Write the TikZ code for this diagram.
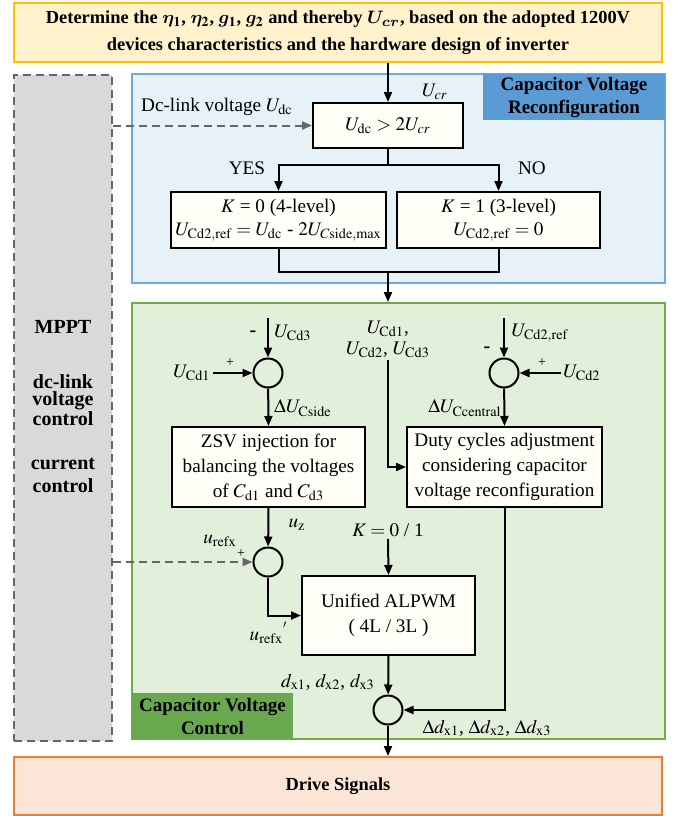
\documentclass[tikz,border=0pt]{standalone}
\usepackage{amsmath}
\usepackage{bm}
\usepackage{mathptmx}
\usepackage[no-math]{fontspec}
\setmainfont{Liberation Serif}
\usetikzlibrary{arrows.meta,positioning}
\definecolor{titlefill}{HTML}{FFF2CC}
\definecolor{titleline}{HTML}{FFC000}
\definecolor{drivefill}{HTML}{FBE5D6}
\definecolor{driveline}{HTML}{ED7D31}
\definecolor{bluefill}{HTML}{E6F1F8}
\definecolor{blueline}{HTML}{6FA8DC}
\definecolor{bluetag}{HTML}{5B9BD5}
\definecolor{greenfill}{HTML}{E2EFDA}
\definecolor{greenline}{HTML}{70AD47}
\definecolor{greentag}{HTML}{6AA84F}
\definecolor{grayfill}{HTML}{D9D9D9}
\definecolor{dashgray}{HTML}{666666}
\definecolor{boxfill}{HTML}{FFFEF7}
\tikzset{>={Triangle[length=5pt,width=4pt]}}
\tikzset{
    block/.style={rectangle,draw,line width=1pt,fill=boxfill,align=center,inner sep=2pt,font=\fontsize{9.6}{12.5}\selectfont},
    banner/.style={rectangle,draw,line width=1pt,align=center,font=\bfseries\fontsize{9.2}{13.5}\selectfont},
    region/.style={rectangle,draw,line width=1pt},
    tag/.style={rectangle,align=center,inner sep=0pt,font=\bfseries\fontsize{9.5}{11.5}\selectfont},
    sumnode/.style={circle,draw,line width=1pt,minimum size=14.5pt,inner sep=0pt},
    lbl/.style={inner sep=1pt,align=center,font=\fontsize{9.6}{12.5}\selectfont},
    sgn/.style={inner sep=0pt,font=\fontsize{7}{8}\selectfont},
    flow/.style={->,line width=1pt},
    wire/.style={line width=1pt},
    feed/.style={->,line width=1pt,draw=dashgray,dash pattern=on 4pt off 2.5pt},
}

\begin{document}
\begin{tikzpicture}[x=0.5pt,y=-0.5pt]
    \useasboundingbox (0,0) rectangle (674,816);

    % outer frames
    \node[banner,fill=titlefill,draw=titleline,minimum width=324pt,minimum height=29.5pt] (top) at (338,32.5)
        {Determine the $\bm{\eta}_{\mathbf{1}}$, $\bm{\eta}_{\mathbf{2}}$, $\bm{g}_{\mathbf{1}}$, $\bm{g}_{\mathbf{2}}$ and thereby $\bm{U}_{\bm{cr}}$, based on the adopted 1200V\\devices characteristics and the hardware design of inverter};
    \node[banner,fill=drivefill,draw=driveline,minimum width=324pt,minimum height=29pt] (drive) at (338,786) {Drive Signals};
    \node[rectangle,draw=dashgray,fill=grayfill,line width=1pt,dash pattern=on 4pt off 2.5pt,minimum width=49pt,minimum height=333pt] (outer) at (63,408) {};
    \node[tag,font=\bfseries\fontsize{10}{12}\selectfont] (mppt) at (63,327) {MPPT};
    \node[tag,font=\bfseries\fontsize{10}{8.5}\selectfont] (dcv) at (63,400) {dc-link\\voltage\\control};
    \node[tag,font=\bfseries\fontsize{10}{11.5}\selectfont] (cur) at (63,475) {current\\control};

    \node[region,fill=bluefill,draw=blueline,minimum width=266.5pt,minimum height=104.5pt] (blue) at (398.5,178.5) {};
    \node[tag,fill=bluetag,minimum width=91pt,minimum height=23pt] (bluetag) at (574,97) {Capacitor Voltage\\Reconfiguration};
    \node[region,fill=greenfill,draw=greenline,minimum width=266.5pt,minimum height=218pt] (green) at (398.5,521) {};
    \node[tag,fill=greentag,minimum width=80.5pt,minimum height=23pt] (greentag) at (212.5,716) {Capacitor Voltage\\Control};

    % reconfiguration
    \node[block,minimum width=75pt,minimum height=22.5pt] (dec) at (388,125.5) {$U_{\mathrm{dc}} > 2U_{cr}$};
    \node[block,minimum width=99.5pt,minimum height=28pt] (kzero) at (278.5,220)
        {$K$ = 0 (4-level)\\[-1pt]$U_{\mathrm{Cd2,ref}} = U_{\mathrm{dc}}$ - $2U_{C\mathrm{side,max}}$};
    \node[block,minimum width=101.5pt,minimum height=28pt] (kone) at (498.5,220)
        {$K$ = 1 (3-level)\\[-1pt]$U_{\mathrm{Cd2,ref}} = 0$};
    \node[lbl] (ucr) at (435,92) {$U_{cr}$};
    \node[lbl] (dclink) at (217,107) {Dc-link voltage $U_{\mathrm{dc}}$};
    \node[lbl] (yes) at (247,168) {YES};
    \node[lbl] (no) at (532,168) {NO};
    \coordinate (br) at (388,165);
    \coordinate (jn) at (388,272);

    \draw[flow] (top.south -| dec.north) -- (dec.north);
    \draw[feed] (outer.east |- dec.west) -- (dec.west);
    \draw[wire] (dec.south) -- (br);
    \draw[flow] (br) -| (kzero.north);
    \draw[flow] (br) -| (kone.north);
    \draw[wire] (kzero.south) |- (jn);
    \draw[wire] (kone.south) |- (jn);
    \draw[flow] (jn) -- (jn |- green.north);

    % voltage control
    \node[sumnode] (sa) at (268,373) {};
    \node[sumnode] (sb) at (504,373) {};
    \node[sumnode] (sc) at (268,562) {};
    \node[sumnode] (sd) at (388,710) {};
    \node[block,minimum width=96.5pt,minimum height=40pt] (zsv) at (268.5,467)
        {ZSV injection for\\balancing the voltages\\of $C_{\mathrm{d1}}$ and $C_{\mathrm{d3}}$};
    \node[block,minimum width=97.5pt,minimum height=40pt] (duty) at (504.5,467)
        {Duty cycles adjustment\\considering capacitor\\voltage reconfiguration};
    \node[block,minimum width=86.5pt,minimum height=39.5pt] (alpwm) at (388.5,615.5)
        {Unified ALPWM\\( 4L / 3L )};

    \coordinate (cdthree) at (268,318);
    \coordinate (cdtworef) at (504,318);
    \node[lbl] (ucdthree) at (293,333) {$U_{\mathrm{Cd3}}$};
    \node[lbl] (ucdone) at (192,373) {$U_{\mathrm{Cd1}}$};
    \node[lbl] (ucdtworef) at (540,333) {$U_{\mathrm{Cd2,ref}}$};
    \node[lbl] (ucdtwo) at (582,373) {$U_{\mathrm{Cd2}}$};
    \node[lbl] (ulist) at (388,339) {$U_{\mathrm{Cd1}}$,\\[-2pt]$U_{\mathrm{Cd2}}$, $U_{\mathrm{Cd3}}$};
    \node[lbl] (dside) at (303,408) {$\Delta U_{\mathrm{Cside}}$};
    \node[lbl] (dcentral) at (465,408) {$\Delta U_{\mathrm{Ccentral}}$};
    \node[lbl] (uz) at (297,525) {$u_{\mathrm{z}}$};
    \node[lbl] (urefx) at (220,541) {$u_{\mathrm{refx}}$};
    \node[lbl] (urefxp) at (269,633) {$u_{\mathrm{refx}}{}^{'}$};
    \node[lbl] (ksel) at (388,530) {$K = 0$ / 1};
    \node[lbl] (dlist) at (328,682) {$d_{\mathrm{x1}}$, $d_{\mathrm{x2}}$, $d_{\mathrm{x3}}$};
    \node[lbl] (ddlist) at (487,728) {$\Delta d_{\mathrm{x1}}$, $\Delta d_{\mathrm{x2}}$, $\Delta d_{\mathrm{x3}}$};

    \node[sgn,font=\bfseries\fontsize{10}{10}\selectfont] (ma) at (253,334) {-};
    \node[sgn] (pa) at (230,363) {+};
    \node[sgn,font=\bfseries\fontsize{10}{10}\selectfont] (mb) at (487,350) {-};
    \node[sgn] (pb) at (542,363) {+};
    \node[sgn] (pc) at (241,554) {+};

    \draw[flow] (cdthree) -- (sa);
    \draw[flow] (ucdone) -- (sa);
    \draw[flow] (sa) -- (zsv.north);
    \draw[flow] (cdtworef) -- (sb);
    \draw[flow] (ucdtwo) -- (sb);
    \draw[flow] (sb) -- (duty.north);
    \draw[flow] (ulist.south) |- (duty.west);
    \draw[flow] (zsv.south) -- (sc);
    \draw[feed] (outer.east |- sc.west) -- (sc.west);
    \draw[flow] (sc.south) |- (alpwm.west);
    \draw[flow] (ksel.south) -- (alpwm.north);
    \draw[flow] (alpwm.south) -- (sd);
    \draw[flow] (duty.south) |- (sd.east);
    \draw[flow] (sd) -- (drive.north -| sd.south);
\end{tikzpicture}
\end{document}
